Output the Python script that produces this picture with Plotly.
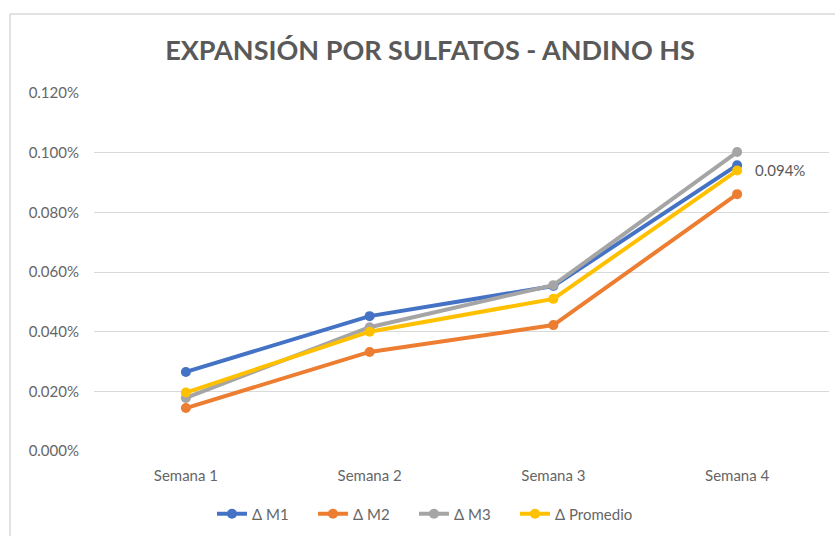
import plotly.graph_objects as go

categories = ["Semana 1", "Semana 2", "Semana 3", "Semana 4"]
m1 = [0.000265, 0.000452, 0.000553, 0.000958]
m2 = [0.000144, 0.000332, 0.000422, 0.000861]
m3 = [0.000178, 0.000415, 0.000556, 0.001002]
promedio = [0.000196, 0.000400, 0.000510, 0.000940]
series_names = ["Δ M1", "Δ M2", "Δ M3", "Δ Promedio"]
colors = ["#4472C4", "#ED7D31", "#A5A5A5", "#FFC000"]
yticks = [0, 0.0002, 0.0004, 0.0006, 0.0008, 0.0010, 0.0012]

FONT = "Lato"
TXT = "#666666"
fig = go.Figure()
for name, vals, col in zip(series_names, [m1, m2, m3, promedio], colors):
    fig.add_trace(go.Scatter(
        x=categories, y=vals, name=name, mode="lines+markers",
        line=dict(color=col, width=4),
        marker=dict(color=col, size=10, symbol="circle"),
        cliponaxis=False,
    ))
# invisible spacer entry so the last legend label is not clipped
fig.add_trace(go.Scatter(x=[None], y=[None], name=" ", mode="lines",
                         line=dict(color="rgba(0,0,0,0)"), hoverinfo="skip"))

fig.add_annotation(x=categories[-1], y=promedio[-1], xref="x", yref="y",
                   text=f"{promedio[-1]*100:.3f}%", showarrow=False,
                   xanchor="left", yanchor="middle", xshift=16, yshift=1,
                   font=dict(family=FONT, size=15, color="#595959"))

fig.update_layout(
    width=835, height=536,
    margin=dict(l=94, r=6, t=93, b=85),
    paper_bgcolor="white", plot_bgcolor="white",
    font=dict(family=FONT, color=TXT, size=15),
    title=dict(text="<b>EXPANSIÓN POR SULFATOS - ANDINO HS</b>",
               x=0.515, xanchor="center", y=0.905, yanchor="middle",
               font=dict(family=FONT, size=27, color="#595959")),
    legend=dict(orientation="h", x=0.1605, xanchor="left", y=-0.176, yanchor="middle",
                font=dict(family=FONT, size=15, color=TXT),
                entrywidth=56, entrywidthmode="pixels", tracegroupgap=0),
    showlegend=True,
)
fig.update_xaxes(range=[-0.5, 3.5], showgrid=False, showline=False, ticks="",
                 ticklabelstandoff=14, tickfont=dict(size=15, color=TXT))
fig.update_yaxes(range=[0, 0.0012], tickvals=yticks, tickformat=".3%",
                 showgrid=True, gridcolor="#D9D9D9", gridwidth=1,
                 zeroline=False, showline=False, ticks="", ticklabelstandoff=14,
                 tickfont=dict(size=15, color=TXT))
fig.add_shape(type="rect", xref="paper", yref="paper",
              x0=-0.1143, x1=1.02, y0=-0.26, y1=1.2207,
              line=dict(color="#D9D9D9", width=1.5), fillcolor="rgba(0,0,0,0)", layer="below")
fig.write_html("out.html", config={"displayModeBar": False},
               post_script="document.body.style.margin='0';")
